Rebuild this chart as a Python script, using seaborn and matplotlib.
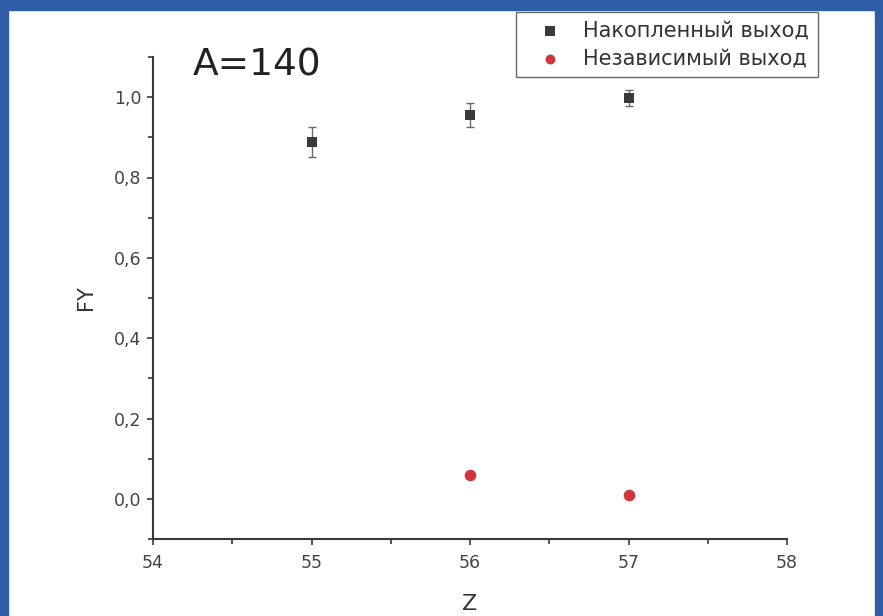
import matplotlib
matplotlib.use("Agg")
import matplotlib.pyplot as plt
import matplotlib.patches as mpatches
from matplotlib.ticker import MultipleLocator, FuncFormatter
import pandas as pd
import seaborn as sns

# Data
z_cum = [55, 56, 57]
fy_cum = [0.888, 0.955, 0.998]
err_cum = [0.037, 0.030, 0.020]

z_ind = [56, 57]
fy_ind = [0.060, 0.010]

label_cum = "Накопленный выход"
label_ind = "Независимый выход"

sns.set_style("ticks")
plt.rcParams["font.family"] = ["DejaVu Sans"]

fig = plt.figure(figsize=(8.83, 6.16), dpi=100)
fig.patch.set_facecolor("white")

# slide-style blue frame
blue = "#2f5ea6"
fig.patches.append(mpatches.Rectangle((0, 1 - 10 / 616), 1, 10 / 616, transform=fig.transFigure, color=blue, zorder=0))
fig.patches.append(mpatches.Rectangle((0, 0), 8 / 883, 1, transform=fig.transFigure, color=blue, zorder=0))
fig.patches.append(mpatches.Rectangle((1 - 8 / 883, 0), 8 / 883, 1, transform=fig.transFigure, color=blue, zorder=0))

ax = fig.add_axes([153 / 883, 77 / 616, 634 / 883, 482 / 616])

df_cum = pd.DataFrame({"Z": z_cum, "FY": fy_cum})
df_ind = pd.DataFrame({"Z": z_ind, "FY": fy_ind})

ax.errorbar(z_cum, fy_cum, yerr=err_cum, fmt="none", ecolor="#6a6a6a",
            elinewidth=1.0, capsize=3, capthick=1.0, zorder=2)
sns.scatterplot(data=df_cum, x="Z", y="FY", ax=ax, marker="s", s=62,
                color="#3a3a3a", linewidth=0, label=label_cum, zorder=3)
sns.scatterplot(data=df_ind, x="Z", y="FY", ax=ax, marker="o", s=70,
                color="#d2343c", linewidth=0, label=label_ind, zorder=3)

ax.set_xlim(54, 58)
ax.set_ylim(-0.1, 1.1)
ax.xaxis.set_major_locator(MultipleLocator(1))
ax.xaxis.set_minor_locator(MultipleLocator(0.5))
ax.yaxis.set_major_locator(MultipleLocator(0.2))
ax.yaxis.set_minor_locator(MultipleLocator(0.1))
ax.yaxis.set_major_formatter(FuncFormatter(lambda v, p: f"{v:.1f}".replace(".", ",").replace("-0,0", "0,0")))

for side in ["top", "right"]:
    ax.spines[side].set_visible(False)
for side in ["left", "bottom"]:
    ax.spines[side].set_color("#3a3a3a")
    ax.spines[side].set_linewidth(1.5)

ax.tick_params(which="major", length=4.5, width=1.2, color="#3a3a3a",
               labelsize=12.5, labelcolor="#444444", direction="out")
ax.tick_params(which="minor", length=3.5, width=1.2, color="#3a3a3a", direction="out")
ax.tick_params(axis="x", which="major", pad=6)
ax.tick_params(axis="y", which="major", pad=4)

ax.set_xlabel("Z", fontsize=16, color="#333333")
ax.set_ylabel("FY", fontsize=15, color="#333333")
ax.xaxis.set_label_coords(0.5, (539 - 594) / 482)
ax.yaxis.set_label_coords((96 - 153) / 634, 0.5)

ax.text((193 - 153) / 634, (539 - 75) / 482, "A=140", transform=ax.transAxes,
        fontsize=27, color="#222222", ha="left", va="baseline")

leg = ax.legend(loc="upper right", bbox_to_anchor=(818 / 883, 604 / 616),
                bbox_transform=fig.transFigure, borderaxespad=0, fontsize=15,
                frameon=True, fancybox=False, edgecolor="#444444",
                handlelength=2.35, handletextpad=0.45, borderpad=0.42,
                labelspacing=0.38, markerscale=0.85)
leg.get_frame().set_linewidth(1.0)
for t in leg.get_texts():
    t.set_color("#333333")

fig.savefig("out.png", dpi=100)
